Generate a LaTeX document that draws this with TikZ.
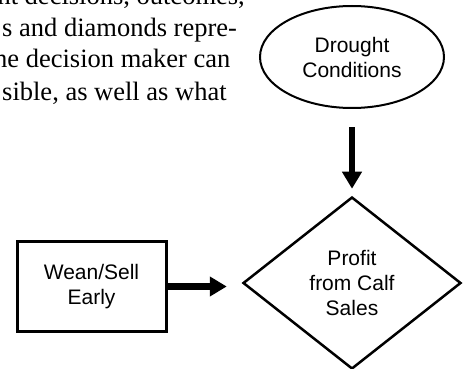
\documentclass[tikz,border=0pt]{standalone}
\usepackage{fontspec}
\newfontfamily\bodyfont{Liberation Serif}
\newfontfamily\chartfont{Liberation Sans}
\usetikzlibrary{shapes.geometric, arrows.meta}

\begin{document}
\begin{tikzpicture}[x = 1pt, y = -1pt,
    textline/.style = {anchor=base east, inner sep=0pt, font=\bodyfont\fontsize{26.5}{32}\selectfont},
    chart/.style = {draw, inner sep=0pt, align=center, font=\chartfont\fontsize{21}{25}\selectfont},
    bigarrow/.style = {line width=6.5pt, -{Triangle[length=17pt, width=19pt]}}]
        \useasboundingbox (0,0) rectangle (469,369);
        \clip (0,0) rectangle (469,369);

        % text of the page beside the figure
        \node[textline] (line1) at (245,5) {nt decisions, outcomes,};
        \node[textline, anchor=base west] (line2) at (2,37) {s and diamonds repre-};
        \node[textline, anchor=base west] (line3) at (-6,68) {he decision maker can};
        \node[textline, anchor=base west] (line4) at (2,101) {sible, as well as what};

        % the diagram
        \node[chart, ellipse, line width=2pt, minimum width=184pt, minimum height=102pt] (drought) at (352,57) {Drought\\Conditions};
        \node[chart, diamond, line width=2.5pt, minimum width=218pt, minimum height=172pt] (profit) at (352,283) {Profit\\from Calf\\Sales};
        \node[chart, line width=3pt, minimum width=149pt, minimum height=90pt] (wean) at (91.5,286.5) {Wean/Sell\\Early};

        \draw[bigarrow, shorten <= 18pt, shorten >= 7pt] (drought) -- (profit);
        \draw[bigarrow, shorten >= 15pt] (wean.east) -- (wean.east -| profit.west);
    \end{tikzpicture}
\end{document}
